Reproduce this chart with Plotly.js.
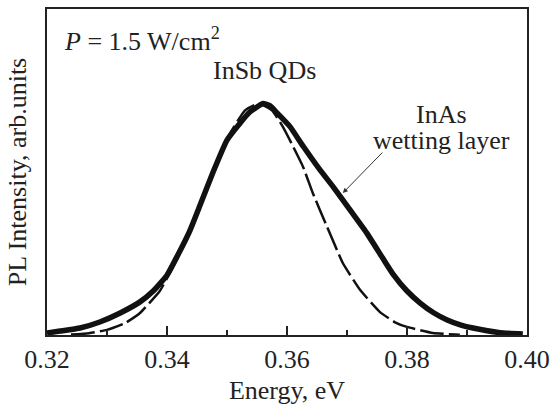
<!DOCTYPE html>
<html>
<head>
<meta charset="utf-8">
<script src="https://cdn.plot.ly/plotly-3.0.1.min.js"></script>
<style>
html,body{margin:0;padding:0;background:#fff;}
#chart{width:550px;height:405px;}
#fontkick{position:absolute;left:0;top:0;width:44px;height:8px;overflow:hidden;font:10px monospace;color:#fff;white-space:pre;pointer-events:none;}
</style>
</head>
<body>
<div id="chart"></div>
<div id="fontkick"></div>
<script>
// Measured PL spectrum (solid, thick line)
const energyMeasured = [0.3200, 0.3222, 0.3255, 0.3288, 0.3322, 0.3355, 0.3377, 0.3400, 0.3417, 0.3438, 0.3455, 0.3477, 0.3500, 0.3522, 0.3538, 0.3550, 0.3560, 0.3572, 0.3583, 0.3605, 0.3627, 0.3655, 0.3677, 0.3705, 0.3733, 0.3760, 0.3777, 0.3800, 0.3822, 0.3845, 0.3867, 0.3890, 0.3910, 0.3955, 0.3993];
const intensityMeasured = [0.009, 0.017, 0.030, 0.056, 0.095, 0.143, 0.190, 0.258, 0.340, 0.450, 0.560, 0.705, 0.842, 0.916, 0.963, 0.985, 1.000, 0.990, 0.960, 0.900, 0.815, 0.713, 0.640, 0.540, 0.440, 0.330, 0.262, 0.190, 0.138, 0.095, 0.065, 0.043, 0.030, 0.010, 0.004];

// Gaussian fit of InSb QD band (dashed line)
const energyFit = [0.3240, 0.3270, 0.3300, 0.3330, 0.3355, 0.3388, 0.3405, 0.3422, 0.3435, 0.3455, 0.3472, 0.3490, 0.3505, 0.3530, 0.3553, 0.3575, 0.3593, 0.3610, 0.3627, 0.3643, 0.3667, 0.3693, 0.3722, 0.3755, 0.3780, 0.3800, 0.3843, 0.3888];
const intensityFit = [0.002, 0.008, 0.022, 0.051, 0.095, 0.190, 0.270, 0.357, 0.440, 0.560, 0.670, 0.780, 0.870, 0.970, 1.000, 0.970, 0.900, 0.815, 0.725, 0.613, 0.466, 0.311, 0.194, 0.099, 0.055, 0.035, 0.009, 0.001];

const xTickValues = [0.32, 0.34, 0.36, 0.38, 0.40];
const xTickLabels = ["0.32", "0.34", "0.36", "0.38", "0.40"];

const labelPower = "<i>P</i> = 1.5 W/cm<sup>2</sup>";
const labelQD = "InSb QDs";
const labelWL1 = "InAs";
const labelWL2 = "wetting layer";
const arrowTip = {x: 0.3693, y: 0.613};

const FONT = "Liberation Serif";

const traces = [
  {x: energyFit, y: intensityFit, type: "scatter", mode: "lines",
   line: {color: "#111", width: 2.5, dash: "24px,5px", shape: "spline", smoothing: 0.4}, hoverinfo: "skip"},
  {x: energyMeasured, y: intensityMeasured, type: "scatter", mode: "lines",
   line: {color: "#111", width: 5.5, shape: "spline", smoothing: 0.4}, hoverinfo: "skip"}
];

const layout = {
  width: 550, height: 405,
  margin: {l: 47, r: 23, t: 9, b: 70},
  paper_bgcolor: "#fff", plot_bgcolor: "#fff",
  showlegend: false,
  font: {family: FONT, size: 26, color: "#222"},
  xaxis: {
    range: [0.32, 0.40], tickvals: xTickValues, ticktext: xTickLabels,
    ticks: "inside", ticklen: 9, tickwidth: 1.5, tickcolor: "#222",
    minor: {dtick: 0.01, ticks: "inside", ticklen: 5, tickwidth: 1.5, tickcolor: "#222"},
    showgrid: false, zeroline: false,
    showline: true, linecolor: "#222", linewidth: 2, mirror: true,
    tickfont: {family: FONT, size: 26, color: "#222"},
    title: {text: "Energy, eV", font: {family: FONT, size: 26, color: "#222"}, standoff: 8}
  },
  yaxis: {
    range: [0, 1.408], showticklabels: false, ticks: "",
    showgrid: false, zeroline: false,
    showline: true, linecolor: "#222", linewidth: 2, mirror: true,
    title: {text: "PL Intensity, arb.units", font: {family: FONT, size: 26, color: "#222"}, standoff: 11}
  },
  annotations: [
    {xref: "paper", yref: "paper", x: 0.031, y: 0.905, xanchor: "left", yanchor: "middle",
     text: labelPower, showarrow: false, font: {family: FONT, size: 26, color: "#222"}},
    {xref: "paper", yref: "paper", x: 0.454, y: 0.81, xanchor: "center", yanchor: "middle",
     text: labelQD, showarrow: false, font: {family: FONT, size: 26, color: "#222"}},
    {xref: "paper", yref: "paper", x: 0.822, y: 0.675, xanchor: "center", yanchor: "middle",
     text: labelWL1, showarrow: false, font: {family: FONT, size: 26, color: "#222"}},
    {xref: "paper", yref: "paper", x: 0.822, y: 0.597, xanchor: "center", yanchor: "middle",
     text: labelWL2, showarrow: false, font: {family: FONT, size: 26, color: "#222"}},
    {x: arrowTip.x, y: arrowTip.y, xref: "x", yref: "y", text: "", showarrow: true,
     ax: 41, ay: -42, arrowhead: 2, arrowsize: 1, arrowwidth: 1, arrowcolor: "#333", standoff: 0}
  ]
};

Plotly.newPlot("chart", traces, layout, {staticPlot: true, displayModeBar: false}).then(function () {
  // touch every text's computed style and write into a tiny invisible box, forcing a full re-layout
  const out = [];
  document.querySelectorAll(".xtick text, .annotation-text, .g-xtitle text, .g-ytitle text").forEach(function (t) {
    out.push(t.textContent + " | " + t.getAttribute("style") + " | " + getComputedStyle(t).fontFamily);
  });
  document.getElementById("fontkick").textContent = out.join("\n");
});
</script>
</body>
</html>
